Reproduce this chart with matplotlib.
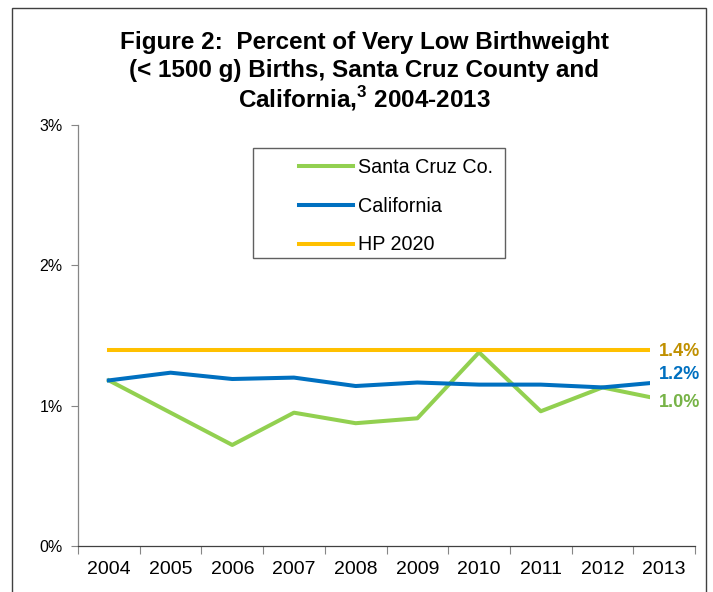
import matplotlib
matplotlib.use("Agg")
import matplotlib.pyplot as plt
from matplotlib.patches import Rectangle
from matplotlib.ticker import FixedLocator, FuncFormatter

plt.rcParams['font.family'] = ['Liberation Sans', 'DejaVu Sans']
plt.rcParams['mathtext.fontset'] = 'custom'
plt.rcParams['mathtext.rm'] = 'Liberation Sans'
plt.rcParams['mathtext.bf'] = 'Liberation Sans:bold'

# data (percent)
years = ['2004', '2005', '2006', '2007', '2008', '2009', '2010', '2011', '2012', '2013']
santa_cruz = [1.18, 0.95, 0.72, 0.95, 0.875, 0.91, 1.38, 0.96, 1.13, 1.04]
california = [1.18, 1.235, 1.19, 1.20, 1.14, 1.165, 1.15, 1.15, 1.13, 1.17]
hp2020 = [1.4] * len(years)
end_labels = ['1.4%', '1.2%', '1.0%']
title_lines = ['Figure 2:  Percent of Very Low Birthweight',
               '(< 1500 g) Births, Santa Cruz County and',
               'California,$^{\\mathbf{3}}$ 2004-2013']

GREEN = '#92D050'
BLUE = '#0070C0'
GOLD = '#FFC000'
AXIS = '#868686'

fig = plt.figure(figsize=(7.13, 5.92), dpi=100)
ax = fig.add_axes([78/713, 1-546/592, (695-78)/713, (546-125)/592])

x = list(range(len(years)))
l1, = ax.plot(x, santa_cruz, color=GREEN, lw=2.9, label='Santa Cruz Co.')
l2, = ax.plot(x, california, color=BLUE, lw=2.9, label='California')
l3, = ax.plot(x, hp2020, color=GOLD, lw=2.9, label='HP 2020')

ax.set_xlim(-0.5, len(years) - 0.5)
ax.set_ylim(0, 3)

ax.xaxis.set_major_locator(FixedLocator(x))
ax.set_xticklabels(years, fontsize=14)
ax.xaxis.set_minor_locator(FixedLocator([i - 0.5 for i in range(len(years) + 1)]))
ax.tick_params(axis='x', which='major', length=0, pad=11)
ax.tick_params(axis='x', which='minor', length=6, width=0.8, color=AXIS, direction='out')

ax.set_yticks([0, 1, 2, 3])
ax.yaxis.set_major_formatter(FuncFormatter(lambda v, p: '%d%%' % v))
ax.tick_params(axis='y', length=5, width=0.8, color=AXIS, labelsize=11.5, pad=6)

for s in ['top', 'right']:
    ax.spines[s].set_visible(False)
ax.spines['left'].set_color(AXIS)
ax.spines['left'].set_linewidth(0.9)
ax.spines['bottom'].set_color('#404040')
ax.spines['bottom'].set_linewidth(0.9)

# end-of-line value labels
last = len(years) - 1
label_specs = [(hp2020[last], end_labels[0], '#C09000', -1.5),
               (california[last], end_labels[1], BLUE, 5.5),
               (santa_cruz[last], end_labels[2], '#77B347', -1.5)]
for val, txt, col, dy in label_specs:
    ax.annotate(txt, xy=(last, val), xytext=(-4, dy), textcoords='offset points',
                ha='left', va='center', fontsize=13, fontweight='bold', color=col,
                bbox=dict(boxstyle='square,pad=0.45', fc='white', ec='none'),
                annotation_clip=False, zorder=5)

# legend (frame drawn separately)
leg = ax.legend(handles=[l1, l2, l3], loc='upper left',
                bbox_to_anchor=(299/713, 1-158/592), bbox_transform=fig.transFigure,
                frameon=False, fontsize=14.2, handlelength=2.75, handletextpad=0.25,
                labelspacing=1.0, borderpad=0, borderaxespad=0)
fig.patches.append(Rectangle((253/713, 1-258/592), (505-253)/713, (258-148)/592,
                             transform=fig.transFigure, fill=False, ec='#606060', lw=1.0))

# outer border
fig.patches.append(Rectangle((12/713, -0.05), (706-12)/713, 1.05-8/592,
                             transform=fig.transFigure, fill=False, ec='#404040', lw=1.0))

for i, line in enumerate(title_lines):
    fig.text(364/713, 1-(43 + 28*i)/592, line, ha='center', va='center',
             fontsize=17.5, fontweight='bold')

fig.savefig('out.png', dpi=100)
